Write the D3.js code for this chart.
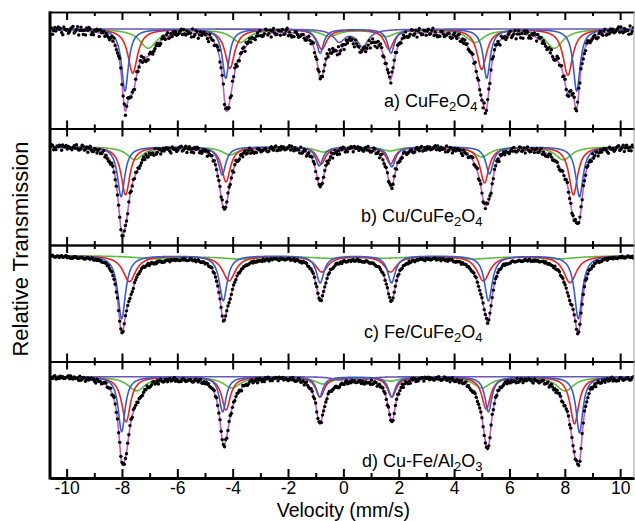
<!DOCTYPE html>
<html><head><meta charset="utf-8">
<script src="https://cdn.jsdelivr.net/npm/d3@7"></script>
<style>
body{margin:0;background:#fff}
svg{display:block}
text{font-family:"Liberation Sans",Arial,Helvetica,sans-serif;fill:#000}
</style>
</head><body>
<svg id="chart" width="635" height="521"></svg>
<script>
// ================= DATA =================
const panelLabels = [
  [["a) CuFe",0],["2",1],["O",0],["4",1]],
  [["b) Cu/CuFe",0],["2",1],["O",0],["4",1]],
  [["c) Fe/CuFe",0],["2",1],["O",0],["4",1]],
  [["d) Cu-Fe/Al",0],["2",1],["O",0],["3",1]]
];
const xMajorTicks = [-10,-8,-6,-4,-2,0,2,4,6,8,10];
const xMinorTicks = [-9,-7,-5,-3,-1,1,3,5,7,9];
const velocityDomain = [-10.6, 10.5];
const xTitle = "Velocity (mm/s)";
const yTitle = "Relative Transmission";
// visible relative-transmission range of each panel [bottom, top]
const panelYDomains = [[0.9005,1.017],[0.9017,1.0182],[0.894,1.0105],[0.8987,1.0152]];

// sextet components, per panel (a,b,c,d): line centres (mm/s), depths (fraction), HWHM
const blueCentres = [
  [-7.89,-4.25,-0.84,1.72,5.18,8.43],
  [-8.03,-4.38,-0.87,1.75,5.28,8.53],
  [-8.01,-4.34,-0.84,1.74,5.24,8.49],
  [-8.01,-4.36,-0.86,1.75,5.24,8.53]];
const blueDepths = [
  [0.062,0.049,0.024,0.024,0.049,0.062],
  [0.050,0.028,0.019,0.020,0.027,0.050],
  [0.063,0.045,0.027,0.027,0.045,0.063],
  [0.055,0.035,0.020,0.020,0.035,0.056]];
const blueWidths = [0.15,0.16,0.17,0.15];

const redCentres = [
  [-7.61,-4.10,-0.78,1.65,5.00,8.11],
  [-7.87,-4.24,-0.80,1.70,5.10,8.31],
  [-7.73,-4.13,-0.78,1.70,5.06,8.19],
  [-7.85,-4.24,-0.84,1.75,5.16,8.35]];
const redDepths = [
  [0.044,0.039,0.020,0.020,0.040,0.046],
  [0.048,0.035,0.017,0.017,0.036,0.048],
  [0.026,0.025,0.016,0.016,0.025,0.027],
  [0.045,0.033,0.020,0.020,0.032,0.047]];
const redWidths = [0.21,0.19,0.28,0.19];

const greenCentres = [
  [-7.05,-3.73,-0.50,1.55,4.76,7.62],
  [-7.53,-4.10,-0.73,1.69,5.00,7.95],
  [-6.75,-3.73,-0.50,1.50,4.70,7.76],
  [-7.47,-4.03,-0.72,1.70,5.00,8.01]];
const greenDepths = [
  [0.019,0.013,0.007,0.007,0.013,0.019],
  [0.013,0.008,0.005,0.004,0.010,0.013],
  [0.003,0.003,0.002,0.002,0.003,0.003],
  [0.014,0.011,0.007,0.004,0.011,0.014]];
const greenWidths = [0.38,0.35,0.9,0.38];

// central doublet (violet), only in a) and d)
const violetCentres = [[-0.15,0.70],[],[],[-0.15,0.70]];
const violetDepths  = [[0.012,0.017],[],[],[0.003,0.003]];
const violetWidths  = [0.25,0.25,0.25,0.3];

// measured-point scatter about the fit (typed residuals, -1..1) and per-panel amplitude
const residuals = [0.42,-0.31,0.77,-0.58,0.12,-0.93,0.36,0.05,-0.47,0.64,-0.19,0.88,-0.72,0.27,-0.05,0.51,-0.66,0.18,-0.38,0.95,-0.24,0.09,-0.81,0.57,-0.13,0.33,-0.55,0.71,-0.02,-0.44,0.62,-0.87,0.21,0.46,-0.35,0.14,-0.68,0.83,-0.28,0.03,0.39,-0.76,0.55,-0.16,0.92,-0.49,0.24,-0.61,0.08,0.73,-0.97,0.31,-0.11,0.48,-0.37,0.66,-0.22,-0.59,0.85,-0.07,0.17,-0.74,0.43,-0.29,0.58,-0.04,-0.52,0.26,0.79,-0.85,0.11,-0.33,0.69,-0.18,0.37,-0.63,0.02,0.54,-0.41,0.89,-0.26,0.15,-0.71,0.47,-0.09,0.32,-0.57,0.75,-0.14,-0.46,0.61,-0.83,0.23,0.06,-0.39,0.81,-0.65,0.29,-0.01,0.44,-0.53,0.13,0.67,-0.79,0.35,-0.21,0.52,-0.34,0.91,-0.6,0.19,-0.08,0.41,-0.69,0.28,0.84,-0.45,0.1,-0.27,0.63,-0.9,0.38,-0.15,0.56,-0.42,0.07,0.72,-0.5];
const residualAmp = [0.0048,0.0036,0.0014,0.0025];
const channelCount = 512;
const channelRange = [-10.55, 10.48];

// ================= DRAW =================
const frameL = 50, frameR = 634, frameT = 12, frameB = 478;
const nP = 4, pH = (frameB - frameT) / nP;
const colors = {total:"#c25fc6", blue:"#3a5cc8", red:"#ee2222", green:"#5cbd3c", violet:"#6656b8"};
const labelPositions = [[384,107],[361,222],[364,338],[362,467]];

const svg = d3.select("#chart");
const x = d3.scaleLinear().domain(velocityDomain).range([frameL, frameR]);

const lor = (v, cs, ds, g) => cs.reduce((s, c, k) => s + ds[k] / (1 + ((v - c) / g) ** 2), 0);

const fine = d3.range(velocityDomain[0], velocityDomain[1] + 0.005, 0.01);
const channels = d3.range(channelCount).map(i => channelRange[0] + i * (channelRange[1] - channelRange[0]) / (channelCount - 1));

for (let p = 0; p < nP; p++) {
  const top = frameT + p * pH, bot = top + pH;
  const y = d3.scaleLinear().domain(panelYDomains[p]).range([bot, top]);
  const comps = [
    {c: blueCentres[p], d: blueDepths[p], g: blueWidths[p], col: colors.blue},
    {c: redCentres[p], d: redDepths[p], g: redWidths[p], col: colors.red},
    {c: greenCentres[p], d: greenDepths[p], g: greenWidths[p], col: colors.green},
    {c: violetCentres[p], d: violetDepths[p], g: violetWidths[p], col: colors.violet}
  ];
  const total = v => 1 - comps.reduce((s, k) => s + lor(v, k.c, k.d, k.g), 0);

  const clipId = "clip" + p;
  svg.append("clipPath").attr("id", clipId).append("rect")
    .attr("x", frameL + 1).attr("y", top + 0.5).attr("width", frameR - frameL - 1).attr("height", pH - 1);
  const g = svg.append("g").attr("clip-path", `url(#${clipId})`);

  const line = d3.line().x(d => x(d[0])).y(d => y(d[1]));
  g.append("path").datum(fine.map(v => [v, total(v)]))
    .attr("d", line).attr("fill", "none").attr("stroke", colors.total).attr("stroke-width", 1.6);
  [2, 1, 0, 3].forEach(k => {
    const cm = comps[k];
    if (!cm.c.length) return;
    g.append("path").datum(fine.map(v => [v, 1 - lor(v, cm.c, cm.d, cm.g)]))
      .attr("d", line).attr("fill", "none").attr("stroke", cm.col).attr("stroke-width", 1.6);
  });
  const pts = channels.map((v, i) => [v, total(v) + residualAmp[p] * residuals[(i * 5 + p * 37) % residuals.length]]);
  g.selectAll("circle").data(pts).join("circle")
    .attr("cx", d => x(d[0])).attr("cy", d => y(d[1])).attr("r", 1.7).attr("fill", "#000");

  const isBottomPanel = p === nP - 1;
  const tAxMaj = svg.append("g").attr("transform", `translate(0,${top})`)
    .call(d3.axisBottom(x).tickValues(xMajorTicks).tickSize(8).tickSizeOuter(0).tickFormat(""));
  const tAxMin = svg.append("g").attr("transform", `translate(0,${top})`)
    .call(d3.axisBottom(x).tickValues(xMinorTicks).tickSize(4).tickSizeOuter(0).tickFormat(""));
  const bAxMaj = svg.append("g").attr("transform", `translate(0,${bot})`)
    .call(d3.axisTop(x).tickValues(xMajorTicks).tickSize(isBottomPanel ? 9 : 8).tickSizeOuter(0).tickFormat(""));
  const bAxMin = svg.append("g").attr("transform", `translate(0,${bot})`)
    .call(d3.axisTop(x).tickValues(xMinorTicks).tickSize(isBottomPanel ? 5 : 4).tickSizeOuter(0).tickFormat(""));
  [tAxMaj, tAxMin, bAxMaj, bAxMin].forEach(a => {
    a.selectAll(".tick line").attr("stroke", "#000").attr("stroke-width", 2);
    a.select(".domain").attr("stroke", "#000").attr("stroke-width", 1.6);
  });
  if (isBottomPanel) { bAxMaj.select(".domain").attr("stroke-width", 3); }

  const lp = labelPositions[p];
  const t = svg.append("text").attr("x", lp[0]).attr("y", lp[1]).style("font-size", "18px");
  let prevSub = 0;
  panelLabels[p].forEach(([s, sub]) => {
    t.append("tspan").text(s)
      .style("font-size", sub ? "13px" : "18px")
      .attr("dy", sub ? 4 : (prevSub ? -4 : 0));
    prevSub = sub;
  });
}

svg.append("line").attr("x1", frameL).attr("x2", frameL).attr("y1", frameT - 0.8).attr("y2", frameB + 1.5)
  .attr("stroke", "#000").attr("stroke-width", 3);
svg.append("line").attr("x1", frameR).attr("x2", frameR).attr("y1", frameT).attr("y2", frameB)
  .attr("stroke", "#999").attr("stroke-width", 1);

const lab = svg.append("g").attr("transform", `translate(0,${frameB})`)
  .call(d3.axisBottom(x).tickValues(xMajorTicks).tickSize(0).tickPadding(4).tickFormat(d => String(d)));
lab.select(".domain").remove();
lab.selectAll("text").style("font-size", "17.5px").style("font-family", '"Liberation Sans",Arial,sans-serif').attr("fill", "#000");

svg.append("text").attr("x", x(0)).attr("y", 517).attr("text-anchor", "middle").style("font-size", "19.5px").text(xTitle);
svg.append("text").attr("transform", `translate(28,249) rotate(-90)`)
  .attr("text-anchor", "middle").style("font-size", "22px").text(yTitle);
</script>
</body></html>
